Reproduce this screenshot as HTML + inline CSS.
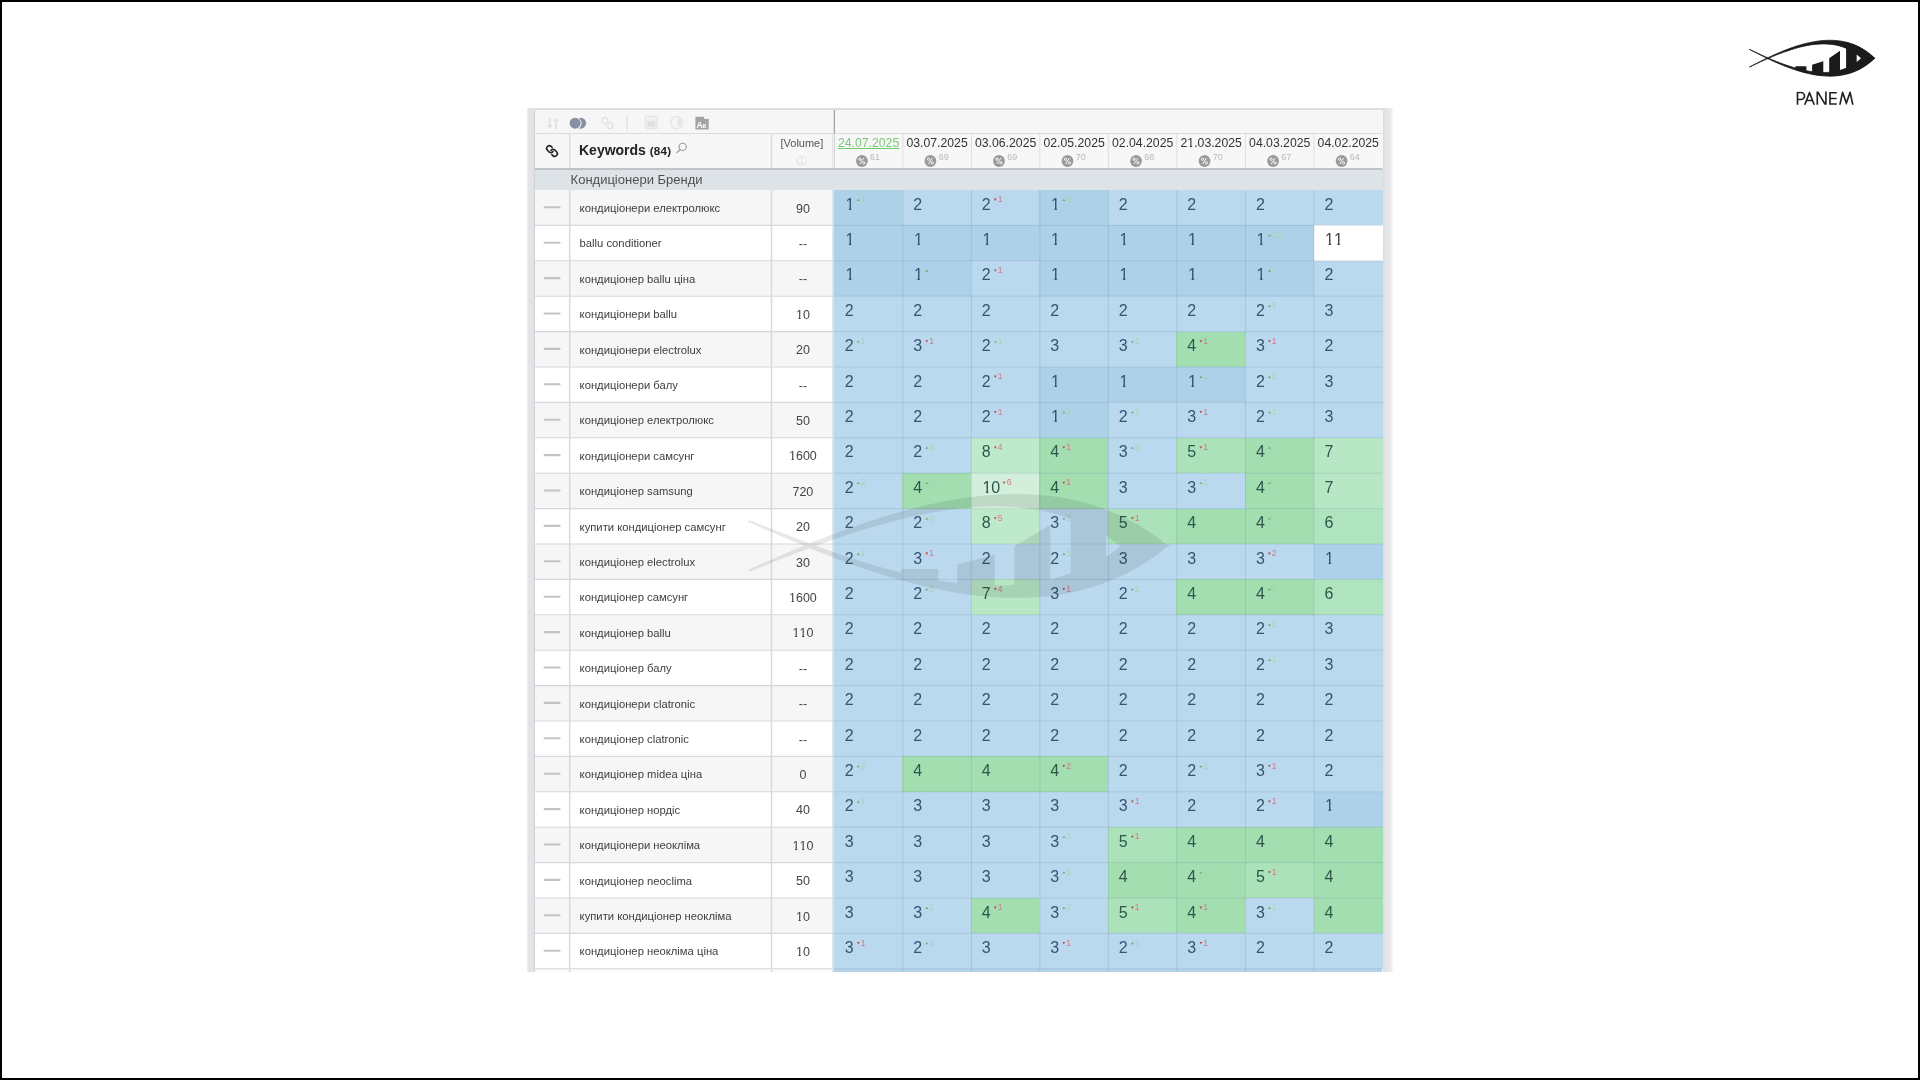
<!DOCTYPE html>
<html><head><meta charset="utf-8"><title>slide</title>
<style>
*{box-sizing:border-box;margin:0;padding:0}
html,body{width:1920px;height:1080px;overflow:hidden;background:#fff}
body{font-family:"Liberation Sans",sans-serif;position:relative}
.edge{position:absolute;left:0;top:0;width:1920px;height:1080px;border:2px solid #000;z-index:50;pointer-events:none}
.a{position:absolute}
.frame{position:absolute;left:527px;top:108px;width:866px;height:864px;background:linear-gradient(to right,#f6f6f8 0,#e5e5e8 0.9px,#e2e2e6 7px,#dfe1e5 8px,#dfe1e5 854px,#d9dadd 855.5px,#e2e3e7 858px,#e6e6ea 862px,#f1f1f3 865.3px,#fff 866px);overflow:hidden}
.kw{position:absolute;font-size:11.25px;color:#404040;white-space:nowrap;line-height:14px;height:14px}
.vol{position:absolute;font-size:12.5px;color:#444;white-space:nowrap;line-height:14px;height:14px;text-align:center}
.num{position:absolute;font-size:16px;white-space:nowrap;line-height:18px;height:18px}
.num b{font-weight:normal;display:inline-block;clip-path:polygon(0 0,100% 0,100% 11.9px,5.9px 11.9px,5.9px 18px,3.5px 18px,3.5px 11.9px,0 11.9px)}
.vol b,.hd b{font-weight:normal;display:inline-block;clip-path:polygon(0 0,100% 0,100% 9.1px,4.75px 9.1px,4.75px 14px,2.6px 14px,2.6px 9.1px,0 9.1px)}
.dl{position:absolute;font-size:8.5px;white-space:nowrap;line-height:8px;height:8px;padding-left:4.1px}
.dl i{position:absolute;left:0;width:0;height:0}
.up{color:#a3d6ad}.up i{top:3.5px;border-left:1.65px solid transparent;border-right:1.65px solid transparent;border-bottom:2.1px solid #6fb074}
.dn{color:#d67686}.dn i{top:3.3px;left:0.2px;border-left:1.45px solid transparent;border-right:1.45px solid transparent;border-top:2.3px solid #c0424a}
.hd{position:absolute;font-size:12.25px;color:#333;white-space:nowrap;line-height:14px;height:14px;text-align:center}
.pn{position:absolute;font-size:9px;color:#b9b9b9;line-height:10px;height:10px}
svg{position:absolute;left:0;top:0;overflow:visible}
</style></head><body>
<div class="edge"></div>
<div class="a" id="all" style="left:0;top:0;width:1920px;height:1080px;filter:blur(0.38px)">

<div class="frame"></div>
<div class="a" style="left:534px;top:108px;width:848.5px;height:2px;background:linear-gradient(#e2e2e2,#d9d9d9)"></div>
<div class="a" style="left:535px;top:110px;width:847.5px;height:862px;background:#fff"></div>
<div class="a" style="left:534px;top:110px;width:1px;height:862px;background:#cfd2d6"></div>
<div class="a" style="left:535px;top:110px;width:847.5px;height:24px;background:#f6f6f6"></div>
<div class="a" style="left:535px;top:134px;width:847.5px;height:35px;background:#f7f7f7"></div>
<div class="a" style="left:535px;top:170px;width:847.5px;height:20px;background:#dde3e7"></div>
<div class="a" style="left:535px;top:190px;width:297.8px;height:36px;background:#f6f6f6"></div>
<div class="a" style="left:833.8px;top:190px;width:69.33px;height:36px;background:#aed1ea"></div>
<div class="a" style="left:902.33px;top:190px;width:69.33px;height:36px;background:#bad9ee"></div>
<div class="a" style="left:970.86px;top:190px;width:69.33px;height:36px;background:#bad9ee"></div>
<div class="a" style="left:1039.39px;top:190px;width:69.33px;height:36px;background:#aed1ea"></div>
<div class="a" style="left:1107.92px;top:190px;width:69.33px;height:36px;background:#bad9ee"></div>
<div class="a" style="left:1176.45px;top:190px;width:69.33px;height:36px;background:#bad9ee"></div>
<div class="a" style="left:1244.98px;top:190px;width:69.33px;height:36px;background:#bad9ee"></div>
<div class="a" style="left:1313.51px;top:190px;width:69.33px;height:36px;background:#bad9ee"></div>
<div class="a" style="left:535px;top:225.4px;width:297.8px;height:36px;background:#ffffff"></div>
<div class="a" style="left:833.8px;top:225.4px;width:69.33px;height:36px;background:#aed1ea"></div>
<div class="a" style="left:902.33px;top:225.4px;width:69.33px;height:36px;background:#aed1ea"></div>
<div class="a" style="left:970.86px;top:225.4px;width:69.33px;height:36px;background:#aed1ea"></div>
<div class="a" style="left:1039.39px;top:225.4px;width:69.33px;height:36px;background:#aed1ea"></div>
<div class="a" style="left:1107.92px;top:225.4px;width:69.33px;height:36px;background:#aed1ea"></div>
<div class="a" style="left:1176.45px;top:225.4px;width:69.33px;height:36px;background:#aed1ea"></div>
<div class="a" style="left:1244.98px;top:225.4px;width:69.33px;height:36px;background:#aed1ea"></div>
<div class="a" style="left:1313.51px;top:225.4px;width:69.33px;height:36px;background:#ffffff"></div>
<div class="a" style="left:535px;top:260.8px;width:297.8px;height:36px;background:#f6f6f6"></div>
<div class="a" style="left:833.8px;top:260.8px;width:69.33px;height:36px;background:#aed1ea"></div>
<div class="a" style="left:902.33px;top:260.8px;width:69.33px;height:36px;background:#aed1ea"></div>
<div class="a" style="left:970.86px;top:260.8px;width:69.33px;height:36px;background:#bad9ee"></div>
<div class="a" style="left:1039.39px;top:260.8px;width:69.33px;height:36px;background:#aed1ea"></div>
<div class="a" style="left:1107.92px;top:260.8px;width:69.33px;height:36px;background:#aed1ea"></div>
<div class="a" style="left:1176.45px;top:260.8px;width:69.33px;height:36px;background:#aed1ea"></div>
<div class="a" style="left:1244.98px;top:260.8px;width:69.33px;height:36px;background:#aed1ea"></div>
<div class="a" style="left:1313.51px;top:260.8px;width:69.33px;height:36px;background:#bad9ee"></div>
<div class="a" style="left:535px;top:296.2px;width:297.8px;height:36px;background:#ffffff"></div>
<div class="a" style="left:833.8px;top:296.2px;width:69.33px;height:36px;background:#bad9ee"></div>
<div class="a" style="left:902.33px;top:296.2px;width:69.33px;height:36px;background:#bad9ee"></div>
<div class="a" style="left:970.86px;top:296.2px;width:69.33px;height:36px;background:#bad9ee"></div>
<div class="a" style="left:1039.39px;top:296.2px;width:69.33px;height:36px;background:#bad9ee"></div>
<div class="a" style="left:1107.92px;top:296.2px;width:69.33px;height:36px;background:#bad9ee"></div>
<div class="a" style="left:1176.45px;top:296.2px;width:69.33px;height:36px;background:#bad9ee"></div>
<div class="a" style="left:1244.98px;top:296.2px;width:69.33px;height:36px;background:#bad9ee"></div>
<div class="a" style="left:1313.51px;top:296.2px;width:69.33px;height:36px;background:#bad9ee"></div>
<div class="a" style="left:535px;top:331.6px;width:297.8px;height:36px;background:#f6f6f6"></div>
<div class="a" style="left:833.8px;top:331.6px;width:69.33px;height:36px;background:#bad9ee"></div>
<div class="a" style="left:902.33px;top:331.6px;width:69.33px;height:36px;background:#bad9ee"></div>
<div class="a" style="left:970.86px;top:331.6px;width:69.33px;height:36px;background:#bad9ee"></div>
<div class="a" style="left:1039.39px;top:331.6px;width:69.33px;height:36px;background:#bad9ee"></div>
<div class="a" style="left:1107.92px;top:331.6px;width:69.33px;height:36px;background:#bad9ee"></div>
<div class="a" style="left:1176.45px;top:331.6px;width:69.33px;height:36px;background:#a3deb1"></div>
<div class="a" style="left:1244.98px;top:331.6px;width:69.33px;height:36px;background:#bad9ee"></div>
<div class="a" style="left:1313.51px;top:331.6px;width:69.33px;height:36px;background:#bad9ee"></div>
<div class="a" style="left:535px;top:367px;width:297.8px;height:36px;background:#ffffff"></div>
<div class="a" style="left:833.8px;top:367px;width:69.33px;height:36px;background:#bad9ee"></div>
<div class="a" style="left:902.33px;top:367px;width:69.33px;height:36px;background:#bad9ee"></div>
<div class="a" style="left:970.86px;top:367px;width:69.33px;height:36px;background:#bad9ee"></div>
<div class="a" style="left:1039.39px;top:367px;width:69.33px;height:36px;background:#aed1ea"></div>
<div class="a" style="left:1107.92px;top:367px;width:69.33px;height:36px;background:#aed1ea"></div>
<div class="a" style="left:1176.45px;top:367px;width:69.33px;height:36px;background:#aed1ea"></div>
<div class="a" style="left:1244.98px;top:367px;width:69.33px;height:36px;background:#bad9ee"></div>
<div class="a" style="left:1313.51px;top:367px;width:69.33px;height:36px;background:#bad9ee"></div>
<div class="a" style="left:535px;top:402.4px;width:297.8px;height:36px;background:#f6f6f6"></div>
<div class="a" style="left:833.8px;top:402.4px;width:69.33px;height:36px;background:#bad9ee"></div>
<div class="a" style="left:902.33px;top:402.4px;width:69.33px;height:36px;background:#bad9ee"></div>
<div class="a" style="left:970.86px;top:402.4px;width:69.33px;height:36px;background:#bad9ee"></div>
<div class="a" style="left:1039.39px;top:402.4px;width:69.33px;height:36px;background:#aed1ea"></div>
<div class="a" style="left:1107.92px;top:402.4px;width:69.33px;height:36px;background:#bad9ee"></div>
<div class="a" style="left:1176.45px;top:402.4px;width:69.33px;height:36px;background:#bad9ee"></div>
<div class="a" style="left:1244.98px;top:402.4px;width:69.33px;height:36px;background:#bad9ee"></div>
<div class="a" style="left:1313.51px;top:402.4px;width:69.33px;height:36px;background:#bad9ee"></div>
<div class="a" style="left:535px;top:437.8px;width:297.8px;height:36px;background:#ffffff"></div>
<div class="a" style="left:833.8px;top:437.8px;width:69.33px;height:36px;background:#bad9ee"></div>
<div class="a" style="left:902.33px;top:437.8px;width:69.33px;height:36px;background:#bad9ee"></div>
<div class="a" style="left:970.86px;top:437.8px;width:69.33px;height:36px;background:#bfe9cb"></div>
<div class="a" style="left:1039.39px;top:437.8px;width:69.33px;height:36px;background:#a3deb1"></div>
<div class="a" style="left:1107.92px;top:437.8px;width:69.33px;height:36px;background:#bad9ee"></div>
<div class="a" style="left:1176.45px;top:437.8px;width:69.33px;height:36px;background:#abe2b9"></div>
<div class="a" style="left:1244.98px;top:437.8px;width:69.33px;height:36px;background:#a3deb1"></div>
<div class="a" style="left:1313.51px;top:437.8px;width:69.33px;height:36px;background:#b8e7c5"></div>
<div class="a" style="left:535px;top:473.2px;width:297.8px;height:36px;background:#f6f6f6"></div>
<div class="a" style="left:833.8px;top:473.2px;width:69.33px;height:36px;background:#bad9ee"></div>
<div class="a" style="left:902.33px;top:473.2px;width:69.33px;height:36px;background:#a3deb1"></div>
<div class="a" style="left:970.86px;top:473.2px;width:69.33px;height:36px;background:#d3efdb"></div>
<div class="a" style="left:1039.39px;top:473.2px;width:69.33px;height:36px;background:#a3deb1"></div>
<div class="a" style="left:1107.92px;top:473.2px;width:69.33px;height:36px;background:#bad9ee"></div>
<div class="a" style="left:1176.45px;top:473.2px;width:69.33px;height:36px;background:#bad9ee"></div>
<div class="a" style="left:1244.98px;top:473.2px;width:69.33px;height:36px;background:#a3deb1"></div>
<div class="a" style="left:1313.51px;top:473.2px;width:69.33px;height:36px;background:#b8e7c5"></div>
<div class="a" style="left:535px;top:508.6px;width:297.8px;height:36px;background:#ffffff"></div>
<div class="a" style="left:833.8px;top:508.6px;width:69.33px;height:36px;background:#bad9ee"></div>
<div class="a" style="left:902.33px;top:508.6px;width:69.33px;height:36px;background:#bad9ee"></div>
<div class="a" style="left:970.86px;top:508.6px;width:69.33px;height:36px;background:#bfe9cb"></div>
<div class="a" style="left:1039.39px;top:508.6px;width:69.33px;height:36px;background:#bad9ee"></div>
<div class="a" style="left:1107.92px;top:508.6px;width:69.33px;height:36px;background:#abe2b9"></div>
<div class="a" style="left:1176.45px;top:508.6px;width:69.33px;height:36px;background:#a3deb1"></div>
<div class="a" style="left:1244.98px;top:508.6px;width:69.33px;height:36px;background:#a3deb1"></div>
<div class="a" style="left:1313.51px;top:508.6px;width:69.33px;height:36px;background:#b0e4be"></div>
<div class="a" style="left:535px;top:544px;width:297.8px;height:36px;background:#f6f6f6"></div>
<div class="a" style="left:833.8px;top:544px;width:69.33px;height:36px;background:#bad9ee"></div>
<div class="a" style="left:902.33px;top:544px;width:69.33px;height:36px;background:#bad9ee"></div>
<div class="a" style="left:970.86px;top:544px;width:69.33px;height:36px;background:#bad9ee"></div>
<div class="a" style="left:1039.39px;top:544px;width:69.33px;height:36px;background:#bad9ee"></div>
<div class="a" style="left:1107.92px;top:544px;width:69.33px;height:36px;background:#bad9ee"></div>
<div class="a" style="left:1176.45px;top:544px;width:69.33px;height:36px;background:#bad9ee"></div>
<div class="a" style="left:1244.98px;top:544px;width:69.33px;height:36px;background:#bad9ee"></div>
<div class="a" style="left:1313.51px;top:544px;width:69.33px;height:36px;background:#aed1ea"></div>
<div class="a" style="left:535px;top:579.4px;width:297.8px;height:36px;background:#ffffff"></div>
<div class="a" style="left:833.8px;top:579.4px;width:69.33px;height:36px;background:#bad9ee"></div>
<div class="a" style="left:902.33px;top:579.4px;width:69.33px;height:36px;background:#bad9ee"></div>
<div class="a" style="left:970.86px;top:579.4px;width:69.33px;height:36px;background:#b8e7c5"></div>
<div class="a" style="left:1039.39px;top:579.4px;width:69.33px;height:36px;background:#bad9ee"></div>
<div class="a" style="left:1107.92px;top:579.4px;width:69.33px;height:36px;background:#bad9ee"></div>
<div class="a" style="left:1176.45px;top:579.4px;width:69.33px;height:36px;background:#a3deb1"></div>
<div class="a" style="left:1244.98px;top:579.4px;width:69.33px;height:36px;background:#a3deb1"></div>
<div class="a" style="left:1313.51px;top:579.4px;width:69.33px;height:36px;background:#b0e4be"></div>
<div class="a" style="left:535px;top:614.8px;width:297.8px;height:36px;background:#f6f6f6"></div>
<div class="a" style="left:833.8px;top:614.8px;width:69.33px;height:36px;background:#bad9ee"></div>
<div class="a" style="left:902.33px;top:614.8px;width:69.33px;height:36px;background:#bad9ee"></div>
<div class="a" style="left:970.86px;top:614.8px;width:69.33px;height:36px;background:#bad9ee"></div>
<div class="a" style="left:1039.39px;top:614.8px;width:69.33px;height:36px;background:#bad9ee"></div>
<div class="a" style="left:1107.92px;top:614.8px;width:69.33px;height:36px;background:#bad9ee"></div>
<div class="a" style="left:1176.45px;top:614.8px;width:69.33px;height:36px;background:#bad9ee"></div>
<div class="a" style="left:1244.98px;top:614.8px;width:69.33px;height:36px;background:#bad9ee"></div>
<div class="a" style="left:1313.51px;top:614.8px;width:69.33px;height:36px;background:#bad9ee"></div>
<div class="a" style="left:535px;top:650.2px;width:297.8px;height:36px;background:#ffffff"></div>
<div class="a" style="left:833.8px;top:650.2px;width:69.33px;height:36px;background:#bad9ee"></div>
<div class="a" style="left:902.33px;top:650.2px;width:69.33px;height:36px;background:#bad9ee"></div>
<div class="a" style="left:970.86px;top:650.2px;width:69.33px;height:36px;background:#bad9ee"></div>
<div class="a" style="left:1039.39px;top:650.2px;width:69.33px;height:36px;background:#bad9ee"></div>
<div class="a" style="left:1107.92px;top:650.2px;width:69.33px;height:36px;background:#bad9ee"></div>
<div class="a" style="left:1176.45px;top:650.2px;width:69.33px;height:36px;background:#bad9ee"></div>
<div class="a" style="left:1244.98px;top:650.2px;width:69.33px;height:36px;background:#bad9ee"></div>
<div class="a" style="left:1313.51px;top:650.2px;width:69.33px;height:36px;background:#bad9ee"></div>
<div class="a" style="left:535px;top:685.6px;width:297.8px;height:36px;background:#f6f6f6"></div>
<div class="a" style="left:833.8px;top:685.6px;width:69.33px;height:36px;background:#bad9ee"></div>
<div class="a" style="left:902.33px;top:685.6px;width:69.33px;height:36px;background:#bad9ee"></div>
<div class="a" style="left:970.86px;top:685.6px;width:69.33px;height:36px;background:#bad9ee"></div>
<div class="a" style="left:1039.39px;top:685.6px;width:69.33px;height:36px;background:#bad9ee"></div>
<div class="a" style="left:1107.92px;top:685.6px;width:69.33px;height:36px;background:#bad9ee"></div>
<div class="a" style="left:1176.45px;top:685.6px;width:69.33px;height:36px;background:#bad9ee"></div>
<div class="a" style="left:1244.98px;top:685.6px;width:69.33px;height:36px;background:#bad9ee"></div>
<div class="a" style="left:1313.51px;top:685.6px;width:69.33px;height:36px;background:#bad9ee"></div>
<div class="a" style="left:535px;top:721px;width:297.8px;height:36px;background:#ffffff"></div>
<div class="a" style="left:833.8px;top:721px;width:69.33px;height:36px;background:#bad9ee"></div>
<div class="a" style="left:902.33px;top:721px;width:69.33px;height:36px;background:#bad9ee"></div>
<div class="a" style="left:970.86px;top:721px;width:69.33px;height:36px;background:#bad9ee"></div>
<div class="a" style="left:1039.39px;top:721px;width:69.33px;height:36px;background:#bad9ee"></div>
<div class="a" style="left:1107.92px;top:721px;width:69.33px;height:36px;background:#bad9ee"></div>
<div class="a" style="left:1176.45px;top:721px;width:69.33px;height:36px;background:#bad9ee"></div>
<div class="a" style="left:1244.98px;top:721px;width:69.33px;height:36px;background:#bad9ee"></div>
<div class="a" style="left:1313.51px;top:721px;width:69.33px;height:36px;background:#bad9ee"></div>
<div class="a" style="left:535px;top:756.4px;width:297.8px;height:36px;background:#f6f6f6"></div>
<div class="a" style="left:833.8px;top:756.4px;width:69.33px;height:36px;background:#bad9ee"></div>
<div class="a" style="left:902.33px;top:756.4px;width:69.33px;height:36px;background:#a3deb1"></div>
<div class="a" style="left:970.86px;top:756.4px;width:69.33px;height:36px;background:#a3deb1"></div>
<div class="a" style="left:1039.39px;top:756.4px;width:69.33px;height:36px;background:#a3deb1"></div>
<div class="a" style="left:1107.92px;top:756.4px;width:69.33px;height:36px;background:#bad9ee"></div>
<div class="a" style="left:1176.45px;top:756.4px;width:69.33px;height:36px;background:#bad9ee"></div>
<div class="a" style="left:1244.98px;top:756.4px;width:69.33px;height:36px;background:#bad9ee"></div>
<div class="a" style="left:1313.51px;top:756.4px;width:69.33px;height:36px;background:#bad9ee"></div>
<div class="a" style="left:535px;top:791.8px;width:297.8px;height:36px;background:#ffffff"></div>
<div class="a" style="left:833.8px;top:791.8px;width:69.33px;height:36px;background:#bad9ee"></div>
<div class="a" style="left:902.33px;top:791.8px;width:69.33px;height:36px;background:#bad9ee"></div>
<div class="a" style="left:970.86px;top:791.8px;width:69.33px;height:36px;background:#bad9ee"></div>
<div class="a" style="left:1039.39px;top:791.8px;width:69.33px;height:36px;background:#bad9ee"></div>
<div class="a" style="left:1107.92px;top:791.8px;width:69.33px;height:36px;background:#bad9ee"></div>
<div class="a" style="left:1176.45px;top:791.8px;width:69.33px;height:36px;background:#bad9ee"></div>
<div class="a" style="left:1244.98px;top:791.8px;width:69.33px;height:36px;background:#bad9ee"></div>
<div class="a" style="left:1313.51px;top:791.8px;width:69.33px;height:36px;background:#aed1ea"></div>
<div class="a" style="left:535px;top:827.2px;width:297.8px;height:36px;background:#f6f6f6"></div>
<div class="a" style="left:833.8px;top:827.2px;width:69.33px;height:36px;background:#bad9ee"></div>
<div class="a" style="left:902.33px;top:827.2px;width:69.33px;height:36px;background:#bad9ee"></div>
<div class="a" style="left:970.86px;top:827.2px;width:69.33px;height:36px;background:#bad9ee"></div>
<div class="a" style="left:1039.39px;top:827.2px;width:69.33px;height:36px;background:#bad9ee"></div>
<div class="a" style="left:1107.92px;top:827.2px;width:69.33px;height:36px;background:#abe2b9"></div>
<div class="a" style="left:1176.45px;top:827.2px;width:69.33px;height:36px;background:#a3deb1"></div>
<div class="a" style="left:1244.98px;top:827.2px;width:69.33px;height:36px;background:#a3deb1"></div>
<div class="a" style="left:1313.51px;top:827.2px;width:69.33px;height:36px;background:#a3deb1"></div>
<div class="a" style="left:535px;top:862.6px;width:297.8px;height:36px;background:#ffffff"></div>
<div class="a" style="left:833.8px;top:862.6px;width:69.33px;height:36px;background:#bad9ee"></div>
<div class="a" style="left:902.33px;top:862.6px;width:69.33px;height:36px;background:#bad9ee"></div>
<div class="a" style="left:970.86px;top:862.6px;width:69.33px;height:36px;background:#bad9ee"></div>
<div class="a" style="left:1039.39px;top:862.6px;width:69.33px;height:36px;background:#bad9ee"></div>
<div class="a" style="left:1107.92px;top:862.6px;width:69.33px;height:36px;background:#a3deb1"></div>
<div class="a" style="left:1176.45px;top:862.6px;width:69.33px;height:36px;background:#a3deb1"></div>
<div class="a" style="left:1244.98px;top:862.6px;width:69.33px;height:36px;background:#abe2b9"></div>
<div class="a" style="left:1313.51px;top:862.6px;width:69.33px;height:36px;background:#a3deb1"></div>
<div class="a" style="left:535px;top:898px;width:297.8px;height:36px;background:#f6f6f6"></div>
<div class="a" style="left:833.8px;top:898px;width:69.33px;height:36px;background:#bad9ee"></div>
<div class="a" style="left:902.33px;top:898px;width:69.33px;height:36px;background:#bad9ee"></div>
<div class="a" style="left:970.86px;top:898px;width:69.33px;height:36px;background:#a3deb1"></div>
<div class="a" style="left:1039.39px;top:898px;width:69.33px;height:36px;background:#bad9ee"></div>
<div class="a" style="left:1107.92px;top:898px;width:69.33px;height:36px;background:#abe2b9"></div>
<div class="a" style="left:1176.45px;top:898px;width:69.33px;height:36px;background:#a3deb1"></div>
<div class="a" style="left:1244.98px;top:898px;width:69.33px;height:36px;background:#bad9ee"></div>
<div class="a" style="left:1313.51px;top:898px;width:69.33px;height:36px;background:#a3deb1"></div>
<div class="a" style="left:535px;top:933.4px;width:297.8px;height:36px;background:#ffffff"></div>
<div class="a" style="left:833.8px;top:933.4px;width:69.33px;height:36px;background:#bad9ee"></div>
<div class="a" style="left:902.33px;top:933.4px;width:69.33px;height:36px;background:#bad9ee"></div>
<div class="a" style="left:970.86px;top:933.4px;width:69.33px;height:36px;background:#bad9ee"></div>
<div class="a" style="left:1039.39px;top:933.4px;width:69.33px;height:36px;background:#bad9ee"></div>
<div class="a" style="left:1107.92px;top:933.4px;width:69.33px;height:36px;background:#bad9ee"></div>
<div class="a" style="left:1176.45px;top:933.4px;width:69.33px;height:36px;background:#bad9ee"></div>
<div class="a" style="left:1244.98px;top:933.4px;width:69.33px;height:36px;background:#bad9ee"></div>
<div class="a" style="left:1313.51px;top:933.4px;width:69.33px;height:36px;background:#bad9ee"></div>
<div class="a" style="left:535px;top:968.8px;width:297.8px;height:3.2px;background:#fafafa"></div>
<div class="a" style="left:833.8px;top:968.8px;width:548.7px;height:3.2px;background:#b4d3ea"></div>
<svg width="1920" height="1080" viewBox="0 0 1920 1080" style="will-change:transform">
<line x1="535" x2="832.8" y1="225.4" y2="225.4" stroke="#d5d7da" stroke-width="1.1"/>
<line x1="833.8" x2="1382.5" y1="225.4" y2="225.4" stroke="#4a6c96" stroke-opacity="0.17" stroke-width="1"/>
<line x1="535" x2="832.8" y1="260.8" y2="260.8" stroke="#d5d7da" stroke-width="1.1"/>
<line x1="833.8" x2="1382.5" y1="260.8" y2="260.8" stroke="#4a6c96" stroke-opacity="0.17" stroke-width="1"/>
<line x1="535" x2="832.8" y1="296.2" y2="296.2" stroke="#d5d7da" stroke-width="1.1"/>
<line x1="833.8" x2="1382.5" y1="296.2" y2="296.2" stroke="#4a6c96" stroke-opacity="0.17" stroke-width="1"/>
<line x1="535" x2="832.8" y1="331.6" y2="331.6" stroke="#d5d7da" stroke-width="1.1"/>
<line x1="833.8" x2="1382.5" y1="331.6" y2="331.6" stroke="#4a6c96" stroke-opacity="0.17" stroke-width="1"/>
<line x1="535" x2="832.8" y1="367" y2="367" stroke="#d5d7da" stroke-width="1.1"/>
<line x1="833.8" x2="1382.5" y1="367" y2="367" stroke="#4a6c96" stroke-opacity="0.17" stroke-width="1"/>
<line x1="535" x2="832.8" y1="402.4" y2="402.4" stroke="#d5d7da" stroke-width="1.1"/>
<line x1="833.8" x2="1382.5" y1="402.4" y2="402.4" stroke="#4a6c96" stroke-opacity="0.17" stroke-width="1"/>
<line x1="535" x2="832.8" y1="437.8" y2="437.8" stroke="#d5d7da" stroke-width="1.1"/>
<line x1="833.8" x2="1382.5" y1="437.8" y2="437.8" stroke="#4a6c96" stroke-opacity="0.17" stroke-width="1"/>
<line x1="535" x2="832.8" y1="473.2" y2="473.2" stroke="#d5d7da" stroke-width="1.1"/>
<line x1="833.8" x2="1382.5" y1="473.2" y2="473.2" stroke="#4a6c96" stroke-opacity="0.17" stroke-width="1"/>
<line x1="535" x2="832.8" y1="508.6" y2="508.6" stroke="#d5d7da" stroke-width="1.1"/>
<line x1="833.8" x2="1382.5" y1="508.6" y2="508.6" stroke="#4a6c96" stroke-opacity="0.17" stroke-width="1"/>
<line x1="535" x2="832.8" y1="544" y2="544" stroke="#d5d7da" stroke-width="1.1"/>
<line x1="833.8" x2="1382.5" y1="544" y2="544" stroke="#4a6c96" stroke-opacity="0.17" stroke-width="1"/>
<line x1="535" x2="832.8" y1="579.4" y2="579.4" stroke="#d5d7da" stroke-width="1.1"/>
<line x1="833.8" x2="1382.5" y1="579.4" y2="579.4" stroke="#4a6c96" stroke-opacity="0.17" stroke-width="1"/>
<line x1="535" x2="832.8" y1="614.8" y2="614.8" stroke="#d5d7da" stroke-width="1.1"/>
<line x1="833.8" x2="1382.5" y1="614.8" y2="614.8" stroke="#4a6c96" stroke-opacity="0.17" stroke-width="1"/>
<line x1="535" x2="832.8" y1="650.2" y2="650.2" stroke="#d5d7da" stroke-width="1.1"/>
<line x1="833.8" x2="1382.5" y1="650.2" y2="650.2" stroke="#4a6c96" stroke-opacity="0.17" stroke-width="1"/>
<line x1="535" x2="832.8" y1="685.6" y2="685.6" stroke="#d5d7da" stroke-width="1.1"/>
<line x1="833.8" x2="1382.5" y1="685.6" y2="685.6" stroke="#4a6c96" stroke-opacity="0.17" stroke-width="1"/>
<line x1="535" x2="832.8" y1="721" y2="721" stroke="#d5d7da" stroke-width="1.1"/>
<line x1="833.8" x2="1382.5" y1="721" y2="721" stroke="#4a6c96" stroke-opacity="0.17" stroke-width="1"/>
<line x1="535" x2="832.8" y1="756.4" y2="756.4" stroke="#d5d7da" stroke-width="1.1"/>
<line x1="833.8" x2="1382.5" y1="756.4" y2="756.4" stroke="#4a6c96" stroke-opacity="0.17" stroke-width="1"/>
<line x1="535" x2="832.8" y1="791.8" y2="791.8" stroke="#d5d7da" stroke-width="1.1"/>
<line x1="833.8" x2="1382.5" y1="791.8" y2="791.8" stroke="#4a6c96" stroke-opacity="0.17" stroke-width="1"/>
<line x1="535" x2="832.8" y1="827.2" y2="827.2" stroke="#d5d7da" stroke-width="1.1"/>
<line x1="833.8" x2="1382.5" y1="827.2" y2="827.2" stroke="#4a6c96" stroke-opacity="0.17" stroke-width="1"/>
<line x1="535" x2="832.8" y1="862.6" y2="862.6" stroke="#d5d7da" stroke-width="1.1"/>
<line x1="833.8" x2="1382.5" y1="862.6" y2="862.6" stroke="#4a6c96" stroke-opacity="0.17" stroke-width="1"/>
<line x1="535" x2="832.8" y1="898" y2="898" stroke="#d5d7da" stroke-width="1.1"/>
<line x1="833.8" x2="1382.5" y1="898" y2="898" stroke="#4a6c96" stroke-opacity="0.17" stroke-width="1"/>
<line x1="535" x2="832.8" y1="933.4" y2="933.4" stroke="#d5d7da" stroke-width="1.1"/>
<line x1="833.8" x2="1382.5" y1="933.4" y2="933.4" stroke="#4a6c96" stroke-opacity="0.17" stroke-width="1"/>
<line x1="535" x2="832.8" y1="968.8" y2="968.8" stroke="#d5d7da" stroke-width="1.1"/>
<line x1="833.8" x2="1382.5" y1="968.8" y2="968.8" stroke="#4a6c96" stroke-opacity="0.17" stroke-width="1"/>
<line x1="535" x2="1382.5" y1="133.5" y2="133.5" stroke="#dcdcdc" stroke-width="1"/>
<rect x="535" y="168" width="847.5" height="2" fill="#bfc3c7"/>
<line x1="569.7" x2="569.7" y1="134" y2="168" stroke="#d9dbdd" stroke-width="1.5"/>
<line x1="569.7" x2="569.7" y1="190" y2="972" stroke="#d7d9dc" stroke-width="1.5"/>
<line x1="771.5" x2="771.5" y1="134" y2="168" stroke="#d9dbdd" stroke-width="1.5"/>
<line x1="771.5" x2="771.5" y1="190" y2="972" stroke="#d7d9dc" stroke-width="1.5"/>
<line x1="834.3" x2="834.3" y1="110" y2="133.5" stroke="#8e8e8e" stroke-width="1"/>
<line x1="834.3" x2="834.3" y1="133.5" y2="168" stroke="#cfcfcf" stroke-width="1"/>
<line x1="832.7" x2="832.7" y1="134" y2="168" stroke="#e2e2e2" stroke-width="1"/>
<line x1="833.1" x2="833.1" y1="190" y2="972" stroke="#d4dce6" stroke-width="1.6"/>
<line x1="902.83" x2="902.83" y1="134" y2="168" stroke="#dedede" stroke-width="1"/>
<line x1="902.83" x2="902.83" y1="190" y2="972" stroke="#4a6c96" stroke-opacity="0.17" stroke-width="1"/>
<line x1="971.36" x2="971.36" y1="134" y2="168" stroke="#dedede" stroke-width="1"/>
<line x1="971.36" x2="971.36" y1="190" y2="972" stroke="#4a6c96" stroke-opacity="0.17" stroke-width="1"/>
<line x1="1039.89" x2="1039.89" y1="134" y2="168" stroke="#dedede" stroke-width="1"/>
<line x1="1039.89" x2="1039.89" y1="190" y2="972" stroke="#4a6c96" stroke-opacity="0.17" stroke-width="1"/>
<line x1="1108.42" x2="1108.42" y1="134" y2="168" stroke="#dedede" stroke-width="1"/>
<line x1="1108.42" x2="1108.42" y1="190" y2="972" stroke="#4a6c96" stroke-opacity="0.17" stroke-width="1"/>
<line x1="1176.95" x2="1176.95" y1="134" y2="168" stroke="#dedede" stroke-width="1"/>
<line x1="1176.95" x2="1176.95" y1="190" y2="972" stroke="#4a6c96" stroke-opacity="0.17" stroke-width="1"/>
<line x1="1245.48" x2="1245.48" y1="134" y2="168" stroke="#dedede" stroke-width="1"/>
<line x1="1245.48" x2="1245.48" y1="190" y2="972" stroke="#4a6c96" stroke-opacity="0.17" stroke-width="1"/>
<line x1="1314.01" x2="1314.01" y1="134" y2="168" stroke="#dedede" stroke-width="1"/>
<line x1="1314.01" x2="1314.01" y1="190" y2="972" stroke="#4a6c96" stroke-opacity="0.17" stroke-width="1"/>
<line x1="544.6" x2="559.6" y1="207.3" y2="207.3" stroke="#c3c3c3" stroke-width="2.1" stroke-linecap="round"/>
<line x1="544.6" x2="559.6" y1="242.7" y2="242.7" stroke="#c3c3c3" stroke-width="2.1" stroke-linecap="round"/>
<line x1="544.6" x2="559.6" y1="278.1" y2="278.1" stroke="#c3c3c3" stroke-width="2.1" stroke-linecap="round"/>
<line x1="544.6" x2="559.6" y1="313.5" y2="313.5" stroke="#c3c3c3" stroke-width="2.1" stroke-linecap="round"/>
<line x1="544.6" x2="559.6" y1="348.9" y2="348.9" stroke="#c3c3c3" stroke-width="2.1" stroke-linecap="round"/>
<line x1="544.6" x2="559.6" y1="384.3" y2="384.3" stroke="#c3c3c3" stroke-width="2.1" stroke-linecap="round"/>
<line x1="544.6" x2="559.6" y1="419.7" y2="419.7" stroke="#c3c3c3" stroke-width="2.1" stroke-linecap="round"/>
<line x1="544.6" x2="559.6" y1="455.1" y2="455.1" stroke="#c3c3c3" stroke-width="2.1" stroke-linecap="round"/>
<line x1="544.6" x2="559.6" y1="490.5" y2="490.5" stroke="#c3c3c3" stroke-width="2.1" stroke-linecap="round"/>
<line x1="544.6" x2="559.6" y1="525.9" y2="525.9" stroke="#c3c3c3" stroke-width="2.1" stroke-linecap="round"/>
<line x1="544.6" x2="559.6" y1="561.3" y2="561.3" stroke="#c3c3c3" stroke-width="2.1" stroke-linecap="round"/>
<line x1="544.6" x2="559.6" y1="596.7" y2="596.7" stroke="#c3c3c3" stroke-width="2.1" stroke-linecap="round"/>
<line x1="544.6" x2="559.6" y1="632.1" y2="632.1" stroke="#c3c3c3" stroke-width="2.1" stroke-linecap="round"/>
<line x1="544.6" x2="559.6" y1="667.5" y2="667.5" stroke="#c3c3c3" stroke-width="2.1" stroke-linecap="round"/>
<line x1="544.6" x2="559.6" y1="702.9" y2="702.9" stroke="#c3c3c3" stroke-width="2.1" stroke-linecap="round"/>
<line x1="544.6" x2="559.6" y1="738.3" y2="738.3" stroke="#c3c3c3" stroke-width="2.1" stroke-linecap="round"/>
<line x1="544.6" x2="559.6" y1="773.7" y2="773.7" stroke="#c3c3c3" stroke-width="2.1" stroke-linecap="round"/>
<line x1="544.6" x2="559.6" y1="809.1" y2="809.1" stroke="#c3c3c3" stroke-width="2.1" stroke-linecap="round"/>
<line x1="544.6" x2="559.6" y1="844.5" y2="844.5" stroke="#c3c3c3" stroke-width="2.1" stroke-linecap="round"/>
<line x1="544.6" x2="559.6" y1="879.9" y2="879.9" stroke="#c3c3c3" stroke-width="2.1" stroke-linecap="round"/>
<line x1="544.6" x2="559.6" y1="915.3" y2="915.3" stroke="#c3c3c3" stroke-width="2.1" stroke-linecap="round"/>
<line x1="544.6" x2="559.6" y1="950.7" y2="950.7" stroke="#c3c3c3" stroke-width="2.1" stroke-linecap="round"/>
<g stroke="#e2e2e2" stroke-width="1.8" fill="none"><path d="M549.8 118v8.5M547.6 124.8l2.2 2.4 2.2-2.4"/><path d="M556 129.4v-9M553.8 121.4l2.2-2.4 2.2 2.4"/></g>
<circle cx="580.6" cy="123.2" r="5.5" fill="#8690a0"/><circle cx="575.1" cy="123.2" r="6.4" fill="#f6f6f6"/><circle cx="575.1" cy="123.2" r="5.5" fill="#8591a0"/>
<g transform="translate(607.4 123.2) scale(-0.545 0.545) translate(-12 -12)" stroke="#e2e2e2" stroke-width="2.7" fill="none" stroke-linecap="round" stroke-linejoin="round"><path d="M10 13a5 5 0 0 0 7.54.54l3-3a5 5 0 0 0-7.07-7.07l-1.72 1.71"/><path d="M14 11a5 5 0 0 0-7.54-.54l-3 3a5 5 0 0 0 7.07 7.07l1.71-1.71"/></g>
<line x1="626.9" x2="626.9" y1="115.2" y2="129.7" stroke="#e0e0e0" stroke-width="1.5"/>
<rect x="645.4" y="116.4" width="11.8" height="12.4" rx="1.2" fill="#efefef" stroke="#e4e4e4" stroke-width="1.2"/><rect x="647.4" y="121.2" width="7.8" height="5.4" fill="#e0e0e0"/>
<circle cx="676.6" cy="122.7" r="6" fill="none" stroke="#e3e3e3" stroke-width="1.3"/><path d="M677.4 118.6a4.1 4.1 0 0 1 0 8.2z" fill="#e6e6e6"/>
<path d="M695.4 116.7h8.2l0.9 2.2h4.2v10.5h-13.3z" fill="#a0a4a3"/><text x="696.6" y="127.6" font-size="8.6" font-weight="bold" fill="#fff" font-family="Liberation Sans">A</text><text x="702.6" y="127.6" font-size="6.4" font-weight="bold" fill="#fff" font-family="Liberation Sans">a</text>
<g transform="translate(552 151) scale(-0.535 0.535) translate(-12 -12)" stroke="#262626" stroke-width="3.05" fill="none" stroke-linecap="round" stroke-linejoin="round"><path d="M10 13a5 5 0 0 0 7.54.54l3-3a5 5 0 0 0-7.07-7.07l-1.72 1.71"/><path d="M14 11a5 5 0 0 0-7.54-.54l-3 3a5 5 0 0 0 7.07 7.07l1.71-1.71"/></g>
<circle cx="682.7" cy="146.9" r="3.6" fill="none" stroke="#9a9a9a" stroke-width="1.1"/><line x1="680" y1="149.7" x2="676.9" y2="152.6" stroke="#9a9a9a" stroke-width="1.3" stroke-linecap="round"/>
<circle cx="801.6" cy="160.7" r="5.7" fill="#ececec"/><path d="M798.5 157.5l2 1 1 2.5-1.5 2-1.5-1.5zM803 156.5l2.5 1.5 0.5 3-2 2.5-1-3z" fill="#f8f8f8"/>
<circle cx="861.9" cy="161" r="5.9" fill="#9a9a9a"/>
<g stroke="#fff" stroke-width="0.9" fill="none"><line x1="863.9" y1="158" x2="859.9" y2="164"/><circle cx="860" cy="159.2" r="1.15"/><circle cx="863.8" cy="162.8" r="1.15"/></g>
<circle cx="930.43" cy="161" r="5.9" fill="#9a9a9a"/>
<g stroke="#fff" stroke-width="0.9" fill="none"><line x1="932.43" y1="158" x2="928.43" y2="164"/><circle cx="928.53" cy="159.2" r="1.15"/><circle cx="932.33" cy="162.8" r="1.15"/></g>
<circle cx="998.96" cy="161" r="5.9" fill="#9a9a9a"/>
<g stroke="#fff" stroke-width="0.9" fill="none"><line x1="1000.96" y1="158" x2="996.96" y2="164"/><circle cx="997.06" cy="159.2" r="1.15"/><circle cx="1000.86" cy="162.8" r="1.15"/></g>
<circle cx="1067.49" cy="161" r="5.9" fill="#9a9a9a"/>
<g stroke="#fff" stroke-width="0.9" fill="none"><line x1="1069.49" y1="158" x2="1065.49" y2="164"/><circle cx="1065.59" cy="159.2" r="1.15"/><circle cx="1069.39" cy="162.8" r="1.15"/></g>
<circle cx="1136.02" cy="161" r="5.9" fill="#9a9a9a"/>
<g stroke="#fff" stroke-width="0.9" fill="none"><line x1="1138.02" y1="158" x2="1134.02" y2="164"/><circle cx="1134.12" cy="159.2" r="1.15"/><circle cx="1137.92" cy="162.8" r="1.15"/></g>
<circle cx="1204.55" cy="161" r="5.9" fill="#9a9a9a"/>
<g stroke="#fff" stroke-width="0.9" fill="none"><line x1="1206.55" y1="158" x2="1202.55" y2="164"/><circle cx="1202.65" cy="159.2" r="1.15"/><circle cx="1206.45" cy="162.8" r="1.15"/></g>
<circle cx="1273.08" cy="161" r="5.9" fill="#9a9a9a"/>
<g stroke="#fff" stroke-width="0.9" fill="none"><line x1="1275.08" y1="158" x2="1271.08" y2="164"/><circle cx="1271.18" cy="159.2" r="1.15"/><circle cx="1274.98" cy="162.8" r="1.15"/></g>
<circle cx="1341.61" cy="161" r="5.9" fill="#9a9a9a"/>
<g stroke="#fff" stroke-width="0.9" fill="none"><line x1="1343.61" y1="158" x2="1339.61" y2="164"/><circle cx="1339.71" cy="159.2" r="1.15"/><circle cx="1343.51" cy="162.8" r="1.15"/></g>
<path d="M856.6 200.9L858.3 198.8L860 200.9Z" fill="#6fb074"/>
<path d="M993.86 198.6L995.26 200.9L996.66 198.6Z" fill="#c0424a"/>
<path d="M1062.19 200.9L1063.89 198.8L1065.59 200.9Z" fill="#6fb074"/>
<path d="M1267.78 236.3L1269.48 234.2L1271.18 236.3Z" fill="#6fb074"/>
<path d="M925.13 271.7L926.83 269.6L928.53 271.7Z" fill="#6fb074"/>
<path d="M993.86 269.4L995.26 271.7L996.66 269.4Z" fill="#c0424a"/>
<path d="M1267.78 271.7L1269.48 269.6L1271.18 271.7Z" fill="#6fb074"/>
<path d="M1267.78 307.1L1269.48 305L1271.18 307.1Z" fill="#6fb074"/>
<path d="M856.6 342.5L858.3 340.4L860 342.5Z" fill="#6fb074"/>
<path d="M925.33 340.2L926.73 342.5L928.13 340.2Z" fill="#c0424a"/>
<path d="M993.66 342.5L995.36 340.4L997.06 342.5Z" fill="#6fb074"/>
<path d="M1130.72 342.5L1132.42 340.4L1134.12 342.5Z" fill="#6fb074"/>
<path d="M1199.45 340.2L1200.85 342.5L1202.25 340.2Z" fill="#c0424a"/>
<path d="M1267.98 340.2L1269.38 342.5L1270.78 340.2Z" fill="#c0424a"/>
<path d="M993.86 375.6L995.26 377.9L996.66 375.6Z" fill="#c0424a"/>
<path d="M1199.25 377.9L1200.95 375.8L1202.65 377.9Z" fill="#6fb074"/>
<path d="M1267.78 377.9L1269.48 375.8L1271.18 377.9Z" fill="#6fb074"/>
<path d="M993.86 411L995.26 413.3L996.66 411Z" fill="#c0424a"/>
<path d="M1062.19 413.3L1063.89 411.2L1065.59 413.3Z" fill="#6fb074"/>
<path d="M1130.72 413.3L1132.42 411.2L1134.12 413.3Z" fill="#6fb074"/>
<path d="M1199.45 411L1200.85 413.3L1202.25 411Z" fill="#c0424a"/>
<path d="M1267.78 413.3L1269.48 411.2L1271.18 413.3Z" fill="#6fb074"/>
<path d="M925.13 448.7L926.83 446.6L928.53 448.7Z" fill="#6fb074"/>
<path d="M993.86 446.4L995.26 448.7L996.66 446.4Z" fill="#c0424a"/>
<path d="M1062.39 446.4L1063.79 448.7L1065.19 446.4Z" fill="#c0424a"/>
<path d="M1130.72 448.7L1132.42 446.6L1134.12 448.7Z" fill="#6fb074"/>
<path d="M1199.45 446.4L1200.85 448.7L1202.25 446.4Z" fill="#c0424a"/>
<path d="M1267.78 448.7L1269.48 446.6L1271.18 448.7Z" fill="#6fb074"/>
<path d="M856.6 484.1L858.3 482L860 484.1Z" fill="#6fb074"/>
<path d="M925.13 484.1L926.83 482L928.53 484.1Z" fill="#6fb074"/>
<path d="M1002.76 481.8L1004.16 484.1L1005.56 481.8Z" fill="#c0424a"/>
<path d="M1062.39 481.8L1063.79 484.1L1065.19 481.8Z" fill="#c0424a"/>
<path d="M1199.25 484.1L1200.95 482L1202.65 484.1Z" fill="#6fb074"/>
<path d="M1267.78 484.1L1269.48 482L1271.18 484.1Z" fill="#6fb074"/>
<path d="M925.13 519.5L926.83 517.4L928.53 519.5Z" fill="#6fb074"/>
<path d="M993.86 517.2L995.26 519.5L996.66 517.2Z" fill="#c0424a"/>
<path d="M1062.19 519.5L1063.89 517.4L1065.59 519.5Z" fill="#6fb074"/>
<path d="M1130.92 517.2L1132.32 519.5L1133.72 517.2Z" fill="#c0424a"/>
<path d="M1267.78 519.5L1269.48 517.4L1271.18 519.5Z" fill="#6fb074"/>
<path d="M856.6 554.9L858.3 552.8L860 554.9Z" fill="#6fb074"/>
<path d="M925.33 552.6L926.73 554.9L928.13 552.6Z" fill="#c0424a"/>
<path d="M1062.19 554.9L1063.89 552.8L1065.59 554.9Z" fill="#6fb074"/>
<path d="M1267.98 552.6L1269.38 554.9L1270.78 552.6Z" fill="#c0424a"/>
<path d="M925.13 590.3L926.83 588.2L928.53 590.3Z" fill="#6fb074"/>
<path d="M993.86 588L995.26 590.3L996.66 588Z" fill="#c0424a"/>
<path d="M1062.39 588L1063.79 590.3L1065.19 588Z" fill="#c0424a"/>
<path d="M1130.72 590.3L1132.42 588.2L1134.12 590.3Z" fill="#6fb074"/>
<path d="M1267.78 590.3L1269.48 588.2L1271.18 590.3Z" fill="#6fb074"/>
<path d="M1267.78 625.7L1269.48 623.6L1271.18 625.7Z" fill="#6fb074"/>
<path d="M1267.78 661.1L1269.48 659L1271.18 661.1Z" fill="#6fb074"/>
<path d="M856.6 767.3L858.3 765.2L860 767.3Z" fill="#6fb074"/>
<path d="M1062.39 765L1063.79 767.3L1065.19 765Z" fill="#c0424a"/>
<path d="M1199.25 767.3L1200.95 765.2L1202.65 767.3Z" fill="#6fb074"/>
<path d="M1267.98 765L1269.38 767.3L1270.78 765Z" fill="#c0424a"/>
<path d="M856.6 802.7L858.3 800.6L860 802.7Z" fill="#6fb074"/>
<path d="M1130.92 800.4L1132.32 802.7L1133.72 800.4Z" fill="#c0424a"/>
<path d="M1267.98 800.4L1269.38 802.7L1270.78 800.4Z" fill="#c0424a"/>
<path d="M1062.19 838.1L1063.89 836L1065.59 838.1Z" fill="#6fb074"/>
<path d="M1130.92 835.8L1132.32 838.1L1133.72 835.8Z" fill="#c0424a"/>
<path d="M1062.19 873.5L1063.89 871.4L1065.59 873.5Z" fill="#6fb074"/>
<path d="M1199.25 873.5L1200.95 871.4L1202.65 873.5Z" fill="#6fb074"/>
<path d="M1267.98 871.2L1269.38 873.5L1270.78 871.2Z" fill="#c0424a"/>
<path d="M925.13 908.9L926.83 906.8L928.53 908.9Z" fill="#6fb074"/>
<path d="M993.86 906.6L995.26 908.9L996.66 906.6Z" fill="#c0424a"/>
<path d="M1062.19 908.9L1063.89 906.8L1065.59 908.9Z" fill="#6fb074"/>
<path d="M1130.92 906.6L1132.32 908.9L1133.72 906.6Z" fill="#c0424a"/>
<path d="M1199.45 906.6L1200.85 908.9L1202.25 906.6Z" fill="#c0424a"/>
<path d="M1267.78 908.9L1269.48 906.8L1271.18 908.9Z" fill="#6fb074"/>
<path d="M856.8 942L858.2 944.3L859.6 942Z" fill="#c0424a"/>
<path d="M925.13 944.3L926.83 942.2L928.53 944.3Z" fill="#6fb074"/>
<path d="M1062.39 942L1063.79 944.3L1065.19 942Z" fill="#c0424a"/>
<path d="M1130.72 944.3L1132.42 942.2L1134.12 944.3Z" fill="#6fb074"/>
<path d="M1199.45 942L1200.85 944.3L1202.25 942Z" fill="#c0424a"/>
</svg>
<div class="a" style="left:0;top:0;width:1920px;height:1080px;will-change:transform">
<div class="kw" style="left:579.6px;top:201px">кондиціонери електролюкс</div>
<div class="vol" style="left:771.5px;top:201.5px;width:62.8px">90</div>
<div class="num" style="left:845.4px;top:195.5px;color:#36546e"><b>1</b></div>
<div class="dl up" style="left:856.6px;top:195.2px">1</div>
<div class="num" style="left:913.23px;top:195.5px;color:#36546e">2</div>
<div class="num" style="left:981.76px;top:195.5px;color:#36546e">2</div>
<div class="dl dn" style="left:993.66px;top:195.2px">1</div>
<div class="num" style="left:1050.99px;top:195.5px;color:#36546e"><b>1</b></div>
<div class="dl up" style="left:1062.19px;top:195.2px">1</div>
<div class="num" style="left:1118.82px;top:195.5px;color:#36546e">2</div>
<div class="num" style="left:1187.35px;top:195.5px;color:#36546e">2</div>
<div class="num" style="left:1255.88px;top:195.5px;color:#36546e">2</div>
<div class="num" style="left:1324.41px;top:195.5px;color:#36546e">2</div>
<div class="kw" style="left:579.6px;top:236.4px">ballu conditioner</div>
<div class="vol" style="left:771.5px;top:236.9px;width:62.8px">--</div>
<div class="num" style="left:845.4px;top:230.9px;color:#36546e"><b>1</b></div>
<div class="num" style="left:913.93px;top:230.9px;color:#36546e"><b>1</b></div>
<div class="num" style="left:982.46px;top:230.9px;color:#36546e"><b>1</b></div>
<div class="num" style="left:1050.99px;top:230.9px;color:#36546e"><b>1</b></div>
<div class="num" style="left:1119.52px;top:230.9px;color:#36546e"><b>1</b></div>
<div class="num" style="left:1188.05px;top:230.9px;color:#36546e"><b>1</b></div>
<div class="num" style="left:1256.58px;top:230.9px;color:#36546e"><b>1</b></div>
<div class="dl up" style="left:1267.78px;top:230.6px">10</div>
<div class="num" style="left:1325.11px;top:230.9px;color:#444"><b>1</b><b>1</b></div>
<div class="kw" style="left:579.6px;top:271.8px">кондиціонер ballu ціна</div>
<div class="vol" style="left:771.5px;top:272.3px;width:62.8px">--</div>
<div class="num" style="left:845.4px;top:266.3px;color:#36546e"><b>1</b></div>
<div class="num" style="left:913.93px;top:266.3px;color:#36546e"><b>1</b></div>
<div class="dl up" style="left:925.13px;top:266px">1</div>
<div class="num" style="left:981.76px;top:266.3px;color:#36546e">2</div>
<div class="dl dn" style="left:993.66px;top:266px">1</div>
<div class="num" style="left:1050.99px;top:266.3px;color:#36546e"><b>1</b></div>
<div class="num" style="left:1119.52px;top:266.3px;color:#36546e"><b>1</b></div>
<div class="num" style="left:1188.05px;top:266.3px;color:#36546e"><b>1</b></div>
<div class="num" style="left:1256.58px;top:266.3px;color:#36546e"><b>1</b></div>
<div class="dl up" style="left:1267.78px;top:266px">1</div>
<div class="num" style="left:1324.41px;top:266.3px;color:#36546e">2</div>
<div class="kw" style="left:579.6px;top:307.2px">кондиціонери ballu</div>
<div class="vol" style="left:771.5px;top:307.7px;width:62.8px"><b>1</b>0</div>
<div class="num" style="left:844.7px;top:301.7px;color:#36546e">2</div>
<div class="num" style="left:913.23px;top:301.7px;color:#36546e">2</div>
<div class="num" style="left:981.76px;top:301.7px;color:#36546e">2</div>
<div class="num" style="left:1050.29px;top:301.7px;color:#36546e">2</div>
<div class="num" style="left:1118.82px;top:301.7px;color:#36546e">2</div>
<div class="num" style="left:1187.35px;top:301.7px;color:#36546e">2</div>
<div class="num" style="left:1255.88px;top:301.7px;color:#36546e">2</div>
<div class="dl up" style="left:1267.78px;top:301.4px">1</div>
<div class="num" style="left:1324.41px;top:301.7px;color:#36546e">3</div>
<div class="kw" style="left:579.6px;top:342.6px">кондиціонери electrolux</div>
<div class="vol" style="left:771.5px;top:343.1px;width:62.8px">20</div>
<div class="num" style="left:844.7px;top:337.1px;color:#36546e">2</div>
<div class="dl up" style="left:856.6px;top:336.8px">1</div>
<div class="num" style="left:913.23px;top:337.1px;color:#36546e">3</div>
<div class="dl dn" style="left:925.13px;top:336.8px">1</div>
<div class="num" style="left:981.76px;top:337.1px;color:#36546e">2</div>
<div class="dl up" style="left:993.66px;top:336.8px">1</div>
<div class="num" style="left:1050.29px;top:337.1px;color:#36546e">3</div>
<div class="num" style="left:1118.82px;top:337.1px;color:#36546e">3</div>
<div class="dl up" style="left:1130.72px;top:336.8px">1</div>
<div class="num" style="left:1187.35px;top:337.1px;color:#2d574a">4</div>
<div class="dl dn" style="left:1199.25px;top:336.8px">1</div>
<div class="num" style="left:1255.88px;top:337.1px;color:#36546e">3</div>
<div class="dl dn" style="left:1267.78px;top:336.8px">1</div>
<div class="num" style="left:1324.41px;top:337.1px;color:#36546e">2</div>
<div class="kw" style="left:579.6px;top:378px">кондиціонери балу</div>
<div class="vol" style="left:771.5px;top:378.5px;width:62.8px">--</div>
<div class="num" style="left:844.7px;top:372.5px;color:#36546e">2</div>
<div class="num" style="left:913.23px;top:372.5px;color:#36546e">2</div>
<div class="num" style="left:981.76px;top:372.5px;color:#36546e">2</div>
<div class="dl dn" style="left:993.66px;top:372.2px">1</div>
<div class="num" style="left:1050.99px;top:372.5px;color:#36546e"><b>1</b></div>
<div class="num" style="left:1119.52px;top:372.5px;color:#36546e"><b>1</b></div>
<div class="num" style="left:1188.05px;top:372.5px;color:#36546e"><b>1</b></div>
<div class="dl up" style="left:1199.25px;top:372.2px">1</div>
<div class="num" style="left:1255.88px;top:372.5px;color:#36546e">2</div>
<div class="dl up" style="left:1267.78px;top:372.2px">1</div>
<div class="num" style="left:1324.41px;top:372.5px;color:#36546e">3</div>
<div class="kw" style="left:579.6px;top:413.4px">кондиціонер електролюкс</div>
<div class="vol" style="left:771.5px;top:413.9px;width:62.8px">50</div>
<div class="num" style="left:844.7px;top:407.9px;color:#36546e">2</div>
<div class="num" style="left:913.23px;top:407.9px;color:#36546e">2</div>
<div class="num" style="left:981.76px;top:407.9px;color:#36546e">2</div>
<div class="dl dn" style="left:993.66px;top:407.6px">1</div>
<div class="num" style="left:1050.99px;top:407.9px;color:#36546e"><b>1</b></div>
<div class="dl up" style="left:1062.19px;top:407.6px">1</div>
<div class="num" style="left:1118.82px;top:407.9px;color:#36546e">2</div>
<div class="dl up" style="left:1130.72px;top:407.6px">1</div>
<div class="num" style="left:1187.35px;top:407.9px;color:#36546e">3</div>
<div class="dl dn" style="left:1199.25px;top:407.6px">1</div>
<div class="num" style="left:1255.88px;top:407.9px;color:#36546e">2</div>
<div class="dl up" style="left:1267.78px;top:407.6px">1</div>
<div class="num" style="left:1324.41px;top:407.9px;color:#36546e">3</div>
<div class="kw" style="left:579.6px;top:448.8px">кондиціонери самсунг</div>
<div class="vol" style="left:771.5px;top:449.3px;width:62.8px"><b>1</b>600</div>
<div class="num" style="left:844.7px;top:443.3px;color:#36546e">2</div>
<div class="num" style="left:913.23px;top:443.3px;color:#36546e">2</div>
<div class="dl up" style="left:925.13px;top:443px">6</div>
<div class="num" style="left:981.76px;top:443.3px;color:#2d574a">8</div>
<div class="dl dn" style="left:993.66px;top:443px">4</div>
<div class="num" style="left:1050.29px;top:443.3px;color:#2d574a">4</div>
<div class="dl dn" style="left:1062.19px;top:443px">1</div>
<div class="num" style="left:1118.82px;top:443.3px;color:#36546e">3</div>
<div class="dl up" style="left:1130.72px;top:443px">2</div>
<div class="num" style="left:1187.35px;top:443.3px;color:#2d574a">5</div>
<div class="dl dn" style="left:1199.25px;top:443px">1</div>
<div class="num" style="left:1255.88px;top:443.3px;color:#2d574a">4</div>
<div class="dl up" style="left:1267.78px;top:443px">3</div>
<div class="num" style="left:1324.41px;top:443.3px;color:#2d574a">7</div>
<div class="kw" style="left:579.6px;top:484.2px">кондиціонер samsung</div>
<div class="vol" style="left:771.5px;top:484.7px;width:62.8px">720</div>
<div class="num" style="left:844.7px;top:478.7px;color:#36546e">2</div>
<div class="dl up" style="left:856.6px;top:478.4px">2</div>
<div class="num" style="left:913.23px;top:478.7px;color:#2d574a">4</div>
<div class="dl up" style="left:925.13px;top:478.4px">6</div>
<div class="num" style="left:982.46px;top:478.7px;color:#2d574a"><b>1</b>0</div>
<div class="dl dn" style="left:1002.56px;top:478.4px">6</div>
<div class="num" style="left:1050.29px;top:478.7px;color:#2d574a">4</div>
<div class="dl dn" style="left:1062.19px;top:478.4px">1</div>
<div class="num" style="left:1118.82px;top:478.7px;color:#36546e">3</div>
<div class="num" style="left:1187.35px;top:478.7px;color:#36546e">3</div>
<div class="dl up" style="left:1199.25px;top:478.4px">1</div>
<div class="num" style="left:1255.88px;top:478.7px;color:#2d574a">4</div>
<div class="dl up" style="left:1267.78px;top:478.4px">3</div>
<div class="num" style="left:1324.41px;top:478.7px;color:#2d574a">7</div>
<div class="kw" style="left:579.6px;top:519.6px">купити кондиціонер самсунг</div>
<div class="vol" style="left:771.5px;top:520.1px;width:62.8px">20</div>
<div class="num" style="left:844.7px;top:514.1px;color:#36546e">2</div>
<div class="num" style="left:913.23px;top:514.1px;color:#36546e">2</div>
<div class="dl up" style="left:925.13px;top:513.8px">6</div>
<div class="num" style="left:981.76px;top:514.1px;color:#2d574a">8</div>
<div class="dl dn" style="left:993.66px;top:513.8px">5</div>
<div class="num" style="left:1050.29px;top:514.1px;color:#36546e">3</div>
<div class="dl up" style="left:1062.19px;top:513.8px">2</div>
<div class="num" style="left:1118.82px;top:514.1px;color:#2d574a">5</div>
<div class="dl dn" style="left:1130.72px;top:513.8px">1</div>
<div class="num" style="left:1187.35px;top:514.1px;color:#2d574a">4</div>
<div class="num" style="left:1255.88px;top:514.1px;color:#2d574a">4</div>
<div class="dl up" style="left:1267.78px;top:513.8px">2</div>
<div class="num" style="left:1324.41px;top:514.1px;color:#2d574a">6</div>
<div class="kw" style="left:579.6px;top:555px">кондиціонер electrolux</div>
<div class="vol" style="left:771.5px;top:555.5px;width:62.8px">30</div>
<div class="num" style="left:844.7px;top:549.5px;color:#36546e">2</div>
<div class="dl up" style="left:856.6px;top:549.2px">1</div>
<div class="num" style="left:913.23px;top:549.5px;color:#36546e">3</div>
<div class="dl dn" style="left:925.13px;top:549.2px">1</div>
<div class="num" style="left:981.76px;top:549.5px;color:#36546e">2</div>
<div class="num" style="left:1050.29px;top:549.5px;color:#36546e">2</div>
<div class="dl up" style="left:1062.19px;top:549.2px">1</div>
<div class="num" style="left:1118.82px;top:549.5px;color:#36546e">3</div>
<div class="num" style="left:1187.35px;top:549.5px;color:#36546e">3</div>
<div class="num" style="left:1255.88px;top:549.5px;color:#36546e">3</div>
<div class="dl dn" style="left:1267.78px;top:549.2px">2</div>
<div class="num" style="left:1325.11px;top:549.5px;color:#36546e"><b>1</b></div>
<div class="kw" style="left:579.6px;top:590.4px">кондиціонер самсунг</div>
<div class="vol" style="left:771.5px;top:590.9px;width:62.8px"><b>1</b>600</div>
<div class="num" style="left:844.7px;top:584.9px;color:#36546e">2</div>
<div class="num" style="left:913.23px;top:584.9px;color:#36546e">2</div>
<div class="dl up" style="left:925.13px;top:584.6px">5</div>
<div class="num" style="left:981.76px;top:584.9px;color:#2d574a">7</div>
<div class="dl dn" style="left:993.66px;top:584.6px">4</div>
<div class="num" style="left:1050.29px;top:584.9px;color:#36546e">3</div>
<div class="dl dn" style="left:1062.19px;top:584.6px">1</div>
<div class="num" style="left:1118.82px;top:584.9px;color:#36546e">2</div>
<div class="dl up" style="left:1130.72px;top:584.6px">2</div>
<div class="num" style="left:1187.35px;top:584.9px;color:#2d574a">4</div>
<div class="num" style="left:1255.88px;top:584.9px;color:#2d574a">4</div>
<div class="dl up" style="left:1267.78px;top:584.6px">2</div>
<div class="num" style="left:1324.41px;top:584.9px;color:#2d574a">6</div>
<div class="kw" style="left:579.6px;top:625.8px">кондиціонер ballu</div>
<div class="vol" style="left:771.5px;top:626.3px;width:62.8px"><b>1</b><b>1</b>0</div>
<div class="num" style="left:844.7px;top:620.3px;color:#36546e">2</div>
<div class="num" style="left:913.23px;top:620.3px;color:#36546e">2</div>
<div class="num" style="left:981.76px;top:620.3px;color:#36546e">2</div>
<div class="num" style="left:1050.29px;top:620.3px;color:#36546e">2</div>
<div class="num" style="left:1118.82px;top:620.3px;color:#36546e">2</div>
<div class="num" style="left:1187.35px;top:620.3px;color:#36546e">2</div>
<div class="num" style="left:1255.88px;top:620.3px;color:#36546e">2</div>
<div class="dl up" style="left:1267.78px;top:620px">1</div>
<div class="num" style="left:1324.41px;top:620.3px;color:#36546e">3</div>
<div class="kw" style="left:579.6px;top:661.2px">кондиціонер балу</div>
<div class="vol" style="left:771.5px;top:661.7px;width:62.8px">--</div>
<div class="num" style="left:844.7px;top:655.7px;color:#36546e">2</div>
<div class="num" style="left:913.23px;top:655.7px;color:#36546e">2</div>
<div class="num" style="left:981.76px;top:655.7px;color:#36546e">2</div>
<div class="num" style="left:1050.29px;top:655.7px;color:#36546e">2</div>
<div class="num" style="left:1118.82px;top:655.7px;color:#36546e">2</div>
<div class="num" style="left:1187.35px;top:655.7px;color:#36546e">2</div>
<div class="num" style="left:1255.88px;top:655.7px;color:#36546e">2</div>
<div class="dl up" style="left:1267.78px;top:655.4px">1</div>
<div class="num" style="left:1324.41px;top:655.7px;color:#36546e">3</div>
<div class="kw" style="left:579.6px;top:696.6px">кондиціонери clatronic</div>
<div class="vol" style="left:771.5px;top:697.1px;width:62.8px">--</div>
<div class="num" style="left:844.7px;top:691.1px;color:#36546e">2</div>
<div class="num" style="left:913.23px;top:691.1px;color:#36546e">2</div>
<div class="num" style="left:981.76px;top:691.1px;color:#36546e">2</div>
<div class="num" style="left:1050.29px;top:691.1px;color:#36546e">2</div>
<div class="num" style="left:1118.82px;top:691.1px;color:#36546e">2</div>
<div class="num" style="left:1187.35px;top:691.1px;color:#36546e">2</div>
<div class="num" style="left:1255.88px;top:691.1px;color:#36546e">2</div>
<div class="num" style="left:1324.41px;top:691.1px;color:#36546e">2</div>
<div class="kw" style="left:579.6px;top:732px">кондиціонер clatronic</div>
<div class="vol" style="left:771.5px;top:732.5px;width:62.8px">--</div>
<div class="num" style="left:844.7px;top:726.5px;color:#36546e">2</div>
<div class="num" style="left:913.23px;top:726.5px;color:#36546e">2</div>
<div class="num" style="left:981.76px;top:726.5px;color:#36546e">2</div>
<div class="num" style="left:1050.29px;top:726.5px;color:#36546e">2</div>
<div class="num" style="left:1118.82px;top:726.5px;color:#36546e">2</div>
<div class="num" style="left:1187.35px;top:726.5px;color:#36546e">2</div>
<div class="num" style="left:1255.88px;top:726.5px;color:#36546e">2</div>
<div class="num" style="left:1324.41px;top:726.5px;color:#36546e">2</div>
<div class="kw" style="left:579.6px;top:767.4px">кондиціонер midea ціна</div>
<div class="vol" style="left:771.5px;top:767.9px;width:62.8px">0</div>
<div class="num" style="left:844.7px;top:761.9px;color:#36546e">2</div>
<div class="dl up" style="left:856.6px;top:761.6px">2</div>
<div class="num" style="left:913.23px;top:761.9px;color:#2d574a">4</div>
<div class="num" style="left:981.76px;top:761.9px;color:#2d574a">4</div>
<div class="num" style="left:1050.29px;top:761.9px;color:#2d574a">4</div>
<div class="dl dn" style="left:1062.19px;top:761.6px">2</div>
<div class="num" style="left:1118.82px;top:761.9px;color:#36546e">2</div>
<div class="num" style="left:1187.35px;top:761.9px;color:#36546e">2</div>
<div class="dl up" style="left:1199.25px;top:761.6px">1</div>
<div class="num" style="left:1255.88px;top:761.9px;color:#36546e">3</div>
<div class="dl dn" style="left:1267.78px;top:761.6px">1</div>
<div class="num" style="left:1324.41px;top:761.9px;color:#36546e">2</div>
<div class="kw" style="left:579.6px;top:802.8px">кондиціонер нордіс</div>
<div class="vol" style="left:771.5px;top:803.3px;width:62.8px">40</div>
<div class="num" style="left:844.7px;top:797.3px;color:#36546e">2</div>
<div class="dl up" style="left:856.6px;top:797px">1</div>
<div class="num" style="left:913.23px;top:797.3px;color:#36546e">3</div>
<div class="num" style="left:981.76px;top:797.3px;color:#36546e">3</div>
<div class="num" style="left:1050.29px;top:797.3px;color:#36546e">3</div>
<div class="num" style="left:1118.82px;top:797.3px;color:#36546e">3</div>
<div class="dl dn" style="left:1130.72px;top:797px">1</div>
<div class="num" style="left:1187.35px;top:797.3px;color:#36546e">2</div>
<div class="num" style="left:1255.88px;top:797.3px;color:#36546e">2</div>
<div class="dl dn" style="left:1267.78px;top:797px">1</div>
<div class="num" style="left:1325.11px;top:797.3px;color:#36546e"><b>1</b></div>
<div class="kw" style="left:579.6px;top:838.2px">кондиціонери неокліма</div>
<div class="vol" style="left:771.5px;top:838.7px;width:62.8px"><b>1</b><b>1</b>0</div>
<div class="num" style="left:844.7px;top:832.7px;color:#36546e">3</div>
<div class="num" style="left:913.23px;top:832.7px;color:#36546e">3</div>
<div class="num" style="left:981.76px;top:832.7px;color:#36546e">3</div>
<div class="num" style="left:1050.29px;top:832.7px;color:#36546e">3</div>
<div class="dl up" style="left:1062.19px;top:832.4px">2</div>
<div class="num" style="left:1118.82px;top:832.7px;color:#2d574a">5</div>
<div class="dl dn" style="left:1130.72px;top:832.4px">1</div>
<div class="num" style="left:1187.35px;top:832.7px;color:#2d574a">4</div>
<div class="num" style="left:1255.88px;top:832.7px;color:#2d574a">4</div>
<div class="num" style="left:1324.41px;top:832.7px;color:#2d574a">4</div>
<div class="kw" style="left:579.6px;top:873.6px">кондиціонер neoclima</div>
<div class="vol" style="left:771.5px;top:874.1px;width:62.8px">50</div>
<div class="num" style="left:844.7px;top:868.1px;color:#36546e">3</div>
<div class="num" style="left:913.23px;top:868.1px;color:#36546e">3</div>
<div class="num" style="left:981.76px;top:868.1px;color:#36546e">3</div>
<div class="num" style="left:1050.29px;top:868.1px;color:#36546e">3</div>
<div class="dl up" style="left:1062.19px;top:867.8px">1</div>
<div class="num" style="left:1118.82px;top:868.1px;color:#2d574a">4</div>
<div class="num" style="left:1187.35px;top:868.1px;color:#2d574a">4</div>
<div class="dl up" style="left:1199.25px;top:867.8px">1</div>
<div class="num" style="left:1255.88px;top:868.1px;color:#2d574a">5</div>
<div class="dl dn" style="left:1267.78px;top:867.8px">1</div>
<div class="num" style="left:1324.41px;top:868.1px;color:#2d574a">4</div>
<div class="kw" style="left:579.6px;top:909px">купити кондиціонер неокліма</div>
<div class="vol" style="left:771.5px;top:909.5px;width:62.8px"><b>1</b>0</div>
<div class="num" style="left:844.7px;top:903.5px;color:#36546e">3</div>
<div class="num" style="left:913.23px;top:903.5px;color:#36546e">3</div>
<div class="dl up" style="left:925.13px;top:903.2px">1</div>
<div class="num" style="left:981.76px;top:903.5px;color:#2d574a">4</div>
<div class="dl dn" style="left:993.66px;top:903.2px">1</div>
<div class="num" style="left:1050.29px;top:903.5px;color:#36546e">3</div>
<div class="dl up" style="left:1062.19px;top:903.2px">2</div>
<div class="num" style="left:1118.82px;top:903.5px;color:#2d574a">5</div>
<div class="dl dn" style="left:1130.72px;top:903.2px">1</div>
<div class="num" style="left:1187.35px;top:903.5px;color:#2d574a">4</div>
<div class="dl dn" style="left:1199.25px;top:903.2px">1</div>
<div class="num" style="left:1255.88px;top:903.5px;color:#36546e">3</div>
<div class="dl up" style="left:1267.78px;top:903.2px">1</div>
<div class="num" style="left:1324.41px;top:903.5px;color:#2d574a">4</div>
<div class="kw" style="left:579.6px;top:944.4px">кондиціонер неокліма ціна</div>
<div class="vol" style="left:771.5px;top:944.9px;width:62.8px"><b>1</b>0</div>
<div class="num" style="left:844.7px;top:938.9px;color:#36546e">3</div>
<div class="dl dn" style="left:856.6px;top:938.6px">1</div>
<div class="num" style="left:913.23px;top:938.9px;color:#36546e">2</div>
<div class="dl up" style="left:925.13px;top:938.6px">1</div>
<div class="num" style="left:981.76px;top:938.9px;color:#36546e">3</div>
<div class="num" style="left:1050.29px;top:938.9px;color:#36546e">3</div>
<div class="dl dn" style="left:1062.19px;top:938.6px">1</div>
<div class="num" style="left:1118.82px;top:938.9px;color:#36546e">2</div>
<div class="dl up" style="left:1130.72px;top:938.6px">1</div>
<div class="num" style="left:1187.35px;top:938.9px;color:#36546e">3</div>
<div class="dl dn" style="left:1199.25px;top:938.6px">1</div>
<div class="num" style="left:1255.88px;top:938.9px;color:#36546e">2</div>
<div class="num" style="left:1324.41px;top:938.9px;color:#36546e">2</div>
<div class="hd" style="left:834.3px;top:136px;width:68.53px"><span style="color:#7cc77a;text-decoration:underline;text-decoration-color:#6ccf6a;text-underline-offset:0.8px">24.07.2025</span></div>
<div class="pn" style="left:870.1px;top:151.8px">61</div>
<div class="hd" style="left:902.83px;top:136px;width:68.53px">03.07.2025</div>
<div class="pn" style="left:938.63px;top:151.8px">69</div>
<div class="hd" style="left:971.36px;top:136px;width:68.53px">03.06.2025</div>
<div class="pn" style="left:1007.16px;top:151.8px">69</div>
<div class="hd" style="left:1039.89px;top:136px;width:68.53px">02.05.2025</div>
<div class="pn" style="left:1075.69px;top:151.8px">70</div>
<div class="hd" style="left:1108.42px;top:136px;width:68.53px">02.04.2025</div>
<div class="pn" style="left:1144.22px;top:151.8px">68</div>
<div class="hd" style="left:1176.95px;top:136px;width:68.53px">2<b>1</b>.03.2025</div>
<div class="pn" style="left:1212.75px;top:151.8px">70</div>
<div class="hd" style="left:1245.48px;top:136px;width:68.53px">04.03.2025</div>
<div class="pn" style="left:1281.28px;top:151.8px">67</div>
<div class="hd" style="left:1314.01px;top:136px;width:68.53px">04.02.2025</div>
<div class="pn" style="left:1349.81px;top:151.8px">64</div>
<div class="a" style="left:771.5px;top:137px;width:62.8px;text-align:center;font-size:11px;color:#555;margin-left:-1px;line-height:13px">[Volume]</div>
<div class="a" style="left:579px;top:140.5px;font-size:14px;font-weight:bold;color:#222;line-height:18px;white-space:nowrap">Keywords <span style="font-size:11.6px;letter-spacing:0.2px">(84)</span></div>
<div class="a" style="left:570.6px;top:172.2px;font-size:13px;line-height:16px;color:#505050;white-space:nowrap">Кондиціонери Бренди</div>
</div>
<svg width="1920" height="1080" viewBox="0 0 1920 1080" style="position:absolute;left:0;top:0;pointer-events:none">
<defs>
<clipPath id="lens"><path d="M1749.50 67.00 C1787.50 47.08 1838.47 23.00 1874.80 58.20 C1838.47 93.40 1787.50 69.32 1749.50 49.40 Z"/></clipPath>
<mask id="eyem" maskUnits="userSpaceOnUse" x="1740" y="30" width="150" height="60"><rect x="1740" y="30" width="150" height="60" fill="#fff"/><path d="M1856.7 54.5V62.1L1861 58.3Z" fill="#000"/></mask>
<g id="fish" mask="url(#eyem)"><path d="M1749.50 67.00 C1787.50 47.08 1838.47 23.00 1874.80 58.20 L1861.00 58.20 C1830.40 28.50 1781.88 51.84 1749.50 67.00 Z" stroke="currentColor" stroke-width="0.75"/><path d="M1749.50 49.40 C1787.50 69.32 1838.47 93.40 1874.80 58.20 L1861.00 58.20 C1830.40 87.90 1781.88 64.56 1749.50 49.40 Z" stroke="currentColor" stroke-width="0.75"/><path d="M1795.3 66.3H1806.4V80H1795.3Z M1812.1 64.8L1823.3 61.2V80H1812.1Z M1829.2 58.3L1840 50.8V80H1829.2Z M1846.1 30H1880V90H1846.1Z" clip-path="url(#lens)"/></g>
</defs>
<use href="#fish" fill="#1b1b1b" color="#1b1b1b"/>
<g transform="translate(807.5 545.9) scale(3.336 2.84) translate(-1767.2 -58.2)" opacity="0.09"><use href="#fish" fill="#000" color="#000"/></g>
<clipPath id="capc"><rect x="1790" y="91.6" width="70" height="13.2"/></clipPath>
<g stroke="#222" stroke-width="1.65" fill="none" stroke-linejoin="miter" stroke-miterlimit="6" clip-path="url(#capc)">
<path d="M1797.5 106V92.5H1801A3.5 3.5 0 0 1 1801 99.5H1797.5"/>
<path d="M1804.3 106L1809.5 92.7L1814.7 106M1806.4 100.5H1812.6"/>
<path d="M1817.3 106V91.2L1825.9 105.6V90"/>
<path d="M1836.8 92.7H1830V104.1H1836.8M1830 98.5H1836.6"/>
<path d="M1839.6 106L1842.6 92.4L1846.35 103L1850.1 92.4L1853.1 106"/>
</g>
</svg>
</div>
</body></html>
